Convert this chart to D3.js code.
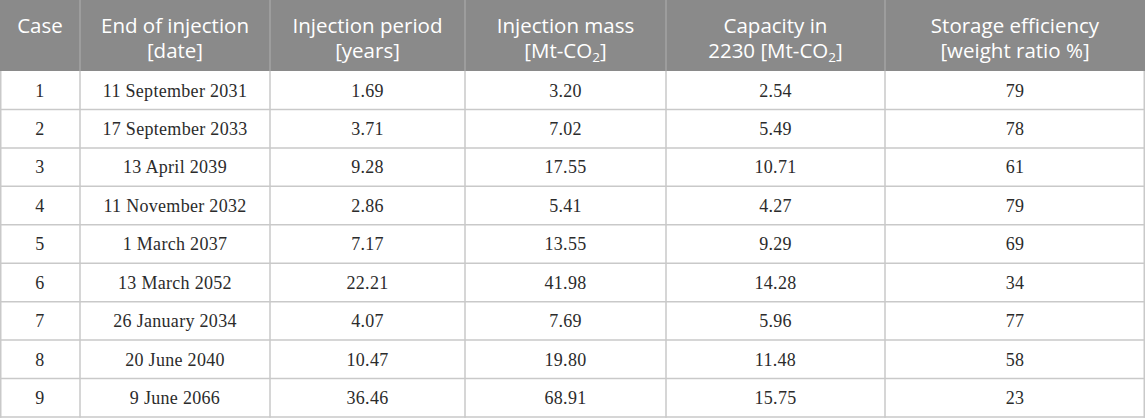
<!DOCTYPE html>
<html>
<head>
<meta charset="utf-8">
<script src="https://cdn.jsdelivr.net/npm/d3@7"></script>
<style>
  body { margin: 0; background: #fff; }
  svg { display: block; }
</style>
</head>
<body>
<div id="table_plot"></div>
<script>
// table values
const headers = [
    ["Case"],
    ["End of injection", "[date]"],
    ["Injection period", "[years]"],
    ["Injection mass", "[Mt-CO|2|]"],
    ["Capacity in", "2230 [Mt-CO|2|]"],
    ["Storage efficiency", "[weight ratio %]"]
];
const cases = ["1", "2", "3", "4", "5", "6", "7", "8", "9"];
const endDates = ["11 September 2031", "17 September 2033", "13 April 2039", "11 November 2032",
    "1 March 2037", "13 March 2052", "26 January 2034", "20 June 2040", "9 June 2066"];
const periods = ["1.69", "3.71", "9.28", "2.86", "7.17", "22.21", "4.07", "10.47", "36.46"];
const masses = ["3.20", "7.02", "17.55", "5.41", "13.55", "41.98", "7.69", "19.80", "68.91"];
const capacities = ["2.54", "5.49", "10.71", "4.27", "9.29", "14.28", "5.96", "11.48", "15.75"];
const efficiencies = ["79", "78", "61", "79", "69", "34", "77", "58", "23"];

const width = 1145;
const height = 418;
const headerH = 71;
const colWidths = [80, 190, 195, 201, 219, 260];
const colEdges = [0, ...d3.cumsum(colWidths)];

const rows = cases.map((c, i) => [c, endDates[i], periods[i], masses[i], capacities[i], efficiencies[i]]);

const y = d3.scaleBand()
    .domain(cases)
    .range([headerH, height - 1]);

const colCenter = i => (colEdges[i] + colEdges[i + 1]) / 2;

const svg = d3.select('#table_plot')
    .append('svg')
    .attr('width', width)
    .attr('height', height);

// header background
svg.append('rect')
    .attr('x', 0).attr('y', 0)
    .attr('width', width).attr('height', headerH)
    .attr('fill', '#8a8a8a');

// header column separators
svg.selectAll('line.hsep')
    .data(colEdges.slice(1, -1))
    .join('line')
    .attr('class', 'hsep')
    .attr('x1', d => d).attr('x2', d => d)
    .attr('y1', 0).attr('y2', headerH)
    .attr('stroke', '#a3a3a3')
    .attr('stroke-width', 1.5);

// header text (| marks subscript)
const htext = svg.selectAll('text.head')
    .data(headers)
    .join('text')
    .attr('class', 'head')
    .attr('font-family', '"Open Sans", "Noto Sans", sans-serif')
    .attr('font-size', '20.5px')
    .attr('fill', '#ffffff')
    .attr('text-anchor', 'middle');

htext.each(function(lines, ci) {
    const t = d3.select(this);
    lines.forEach((ln, li) => {
        const parts = ln.split('|');
        const baseY = 33 + li * 25;
        parts.forEach((p, pi) => {
            const ts = t.append('tspan').text(p);
            if (pi === 0) ts.attr('x', colCenter(ci)).attr('y', baseY);
            if (pi === 1) ts.attr('font-size', '13.5px').attr('dy', 4);
            if (pi === 2) ts.attr('dy', -4);
        });
    });
});

// body horizontal lines
svg.selectAll('line.rsep')
    .data(cases)
    .join('line')
    .attr('class', 'rsep')
    .attr('x1', 0).attr('x2', width)
    .attr('y1', d => y(d) + y.bandwidth())
    .attr('y2', d => y(d) + y.bandwidth())
    .attr('stroke', '#c9c9c9')
    .attr('stroke-width', 1.5);

// body vertical lines
svg.selectAll('line.csep')
    .data(colEdges)
    .join('line')
    .attr('class', 'csep')
    .attr('x1', d => Math.min(Math.max(d, 0.75), width - 0.75))
    .attr('x2', d => Math.min(Math.max(d, 0.75), width - 0.75))
    .attr('y1', headerH).attr('y2', height - 0.25)
    .attr('stroke', '#c9c9c9')
    .attr('stroke-width', 1.5);

// body cells
const rowG = svg.selectAll('g.row')
    .data(rows)
    .join('g')
    .attr('class', 'row')
    .attr('transform', d => `translate(0, ${y(d[0]) + y.bandwidth() / 2})`);

rowG.selectAll('text')
    .data(d => d)
    .join('text')
    .attr('x', (d, i) => colCenter(i))
    .attr('y', 0)
    .attr('dy', '0.35em')
    .attr('text-anchor', 'middle')
    .attr('font-family', '"Liberation Serif", "Times New Roman", serif')
    .attr('font-size', '18px')
    .attr('letter-spacing', '0.3px')
    .attr('fill', '#2b2b2b')
    .text(d => d);
</script>
</body>
</html>
